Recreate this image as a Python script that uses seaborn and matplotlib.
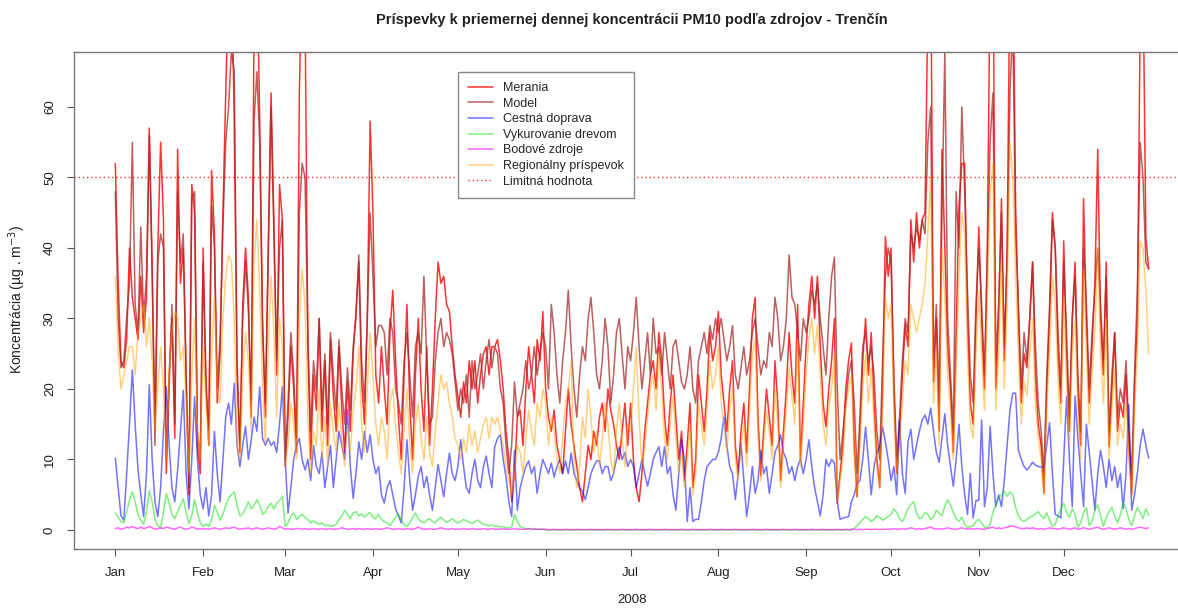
import matplotlib
matplotlib.use("Agg")
import matplotlib.pyplot as plt
import seaborn as sns
import numpy as np
import pandas as pd

# ---- data (daily values 2008, one month per row) ----
month_labels = ["Jan", "Feb", "Mar", "Apr", "May", "Jun",
                "Jul", "Aug", "Sep", "Oct", "Nov", "Dec"]
year_label = "2008"
limit_value = 50

merania = [
    52, 35, 24, 23, 27, 40, 33, 30, 27, 36, 28, 33, 57, 38, 14, 40, 55, 44, 8, 22, 30, 13, 54, 35, 40, 22, 5, 49, 45, 12, 8,
    40, 22, 12, 51, 42, 18, 25, 45, 62, 78, 82, 58, 22, 11, 32, 40, 33, 16, 72, 82, 58, 30, 16, 40, 62, 44, 22, 49, 44,
    9, 16, 26, 20, 11, 62, 82, 75, 26, 10, 22, 17, 30, 14, 24, 12, 27, 19, 14, 26, 17, 11, 21, 14, 25, 31, 38, 21, 15, 30, 58,
    45, 22, 18, 26, 20, 15, 28, 34, 24, 16, 10, 22, 32, 18, 10, 22, 30, 20, 14, 26, 12, 20, 30, 38, 35, 36, 32, 31, 26, 22,
    19, 16, 21, 18, 24, 20, 24, 18, 22, 25, 26, 22, 26, 26, 27, 24, 20, 14, 10, 4, 8, 16, 17, 12, 20, 26, 22, 18, 27, 24, 31,
    20, 16, 14, 17, 12, 10, 8, 14, 20, 15, 12, 9, 6, 4, 8, 12, 10, 14, 12, 16, 18, 14, 20, 17, 15, 12, 10, 14, 18, 12,
    18, 10, 6, 4, 8, 14, 18, 22, 24, 20, 28, 24, 16, 12, 18, 22, 16, 10, 14, 7, 12, 18, 6, 10, 22, 18, 14, 20, 28, 24, 26,
    31, 22, 18, 14, 20, 24, 12, 8, 14, 18, 11, 20, 30, 33, 16, 7.7, 14, 20, 16, 12, 24, 18, 7, 14, 20, 28, 22, 18, 32, 10, 18,
    26, 32, 36, 30, 36, 26, 18, 14.6, 20, 24, 30, 3.8, 8, 12, 20, 24, 26.5, 12, 4.7, 14, 24, 30, 22, 28, 18, 10, 6, 20, 41.6, 36,
    40, 20, 8, 14, 22, 29, 26, 44, 38, 45, 40, 44, 45, 75, 85, 21, 30, 14, 54, 40, 26, 20, 11, 28, 46, 52, 52, 30, 18, 15, 30,
    43, 30, 20, 40, 78, 85, 20, 30, 47, 24, 40, 80, 85, 46, 30, 18, 25, 23, 30, 38, 22, 15, 12, 5.2, 20, 30, 45, 40, 25, 18,
    41, 25, 14, 30, 38, 20, 12, 47, 30, 18, 26, 35, 54, 30, 22, 38, 11.8, 20, 28, 14, 18, 16, 22, 12, 5, 20, 30, 72, 80, 41.6, 37,
]

model = [
    48, 30, 23, 24, 30, 35, 55, 32, 28, 43, 30, 36, 56, 36, 12, 38, 42, 40, 10, 20, 32, 15, 48, 38, 42, 22, 6, 47, 48, 14, 10,
    38, 20, 14, 46, 40, 20, 27, 43, 55, 60, 68, 65, 24, 12, 30, 38, 31, 18, 58, 65, 55, 28, 18, 38, 60, 42, 24, 40, 44,
    10, 18, 28, 22, 13, 45, 52, 50, 28, 14, 24, 20, 30, 17, 25, 15, 28, 22, 17, 27, 20, 15, 23, 17, 26, 30, 39, 24, 18, 30, 45,
    36, 26, 29, 29, 28, 22, 30, 28, 20, 18, 15, 24, 28, 22, 16, 26, 28, 25, 36, 24, 15, 16, 24, 28, 30, 26, 28, 27, 25, 21,
    17, 20, 18, 22, 16, 24, 20, 22, 25, 20, 24, 27, 23, 26, 25, 20, 18, 12, 8, 12, 21, 16, 18, 20, 24, 20, 22, 26, 22, 25, 28,
    26, 20, 32, 28, 22, 18, 24, 28, 34, 26, 20, 16, 22, 26, 24, 30, 33, 28, 22, 20, 24, 30, 26, 18, 22, 28, 30, 25, 20, 26,
    24, 28, 33, 26, 20, 24, 28, 22, 30, 25, 26, 22, 28, 24, 20, 26, 27, 24, 21, 20, 22, 26, 20, 18, 24, 26, 28, 25, 29, 27, 30,
    28, 30, 27, 24, 26, 29, 22, 20, 23, 26, 22, 24, 28, 30, 26, 22, 24, 23, 28, 26, 33, 30, 24, 26, 30, 39, 33, 32, 28, 24, 30,
    28, 30, 34, 32, 35, 30, 26, 22, 30, 36, 38.7, 20, 10, 14, 18, 22, 24, 18, 8, 16, 26, 28, 24, 26, 22, 14, 10, 24, 36, 40,
    38, 22, 10, 16, 24, 30, 28, 42, 40, 43, 41, 44, 42, 55, 60, 24, 32, 18, 45, 68, 30, 22, 14, 48, 40, 60, 48, 34, 22, 18, 32,
    40, 32, 22, 38, 55, 62, 24, 32, 45, 26, 38, 62, 72, 42, 32, 20, 28, 24, 30, 38, 26, 18, 14, 8, 22, 32, 44, 40, 28, 20,
    38, 28, 16, 30, 36, 22, 14, 40, 32, 20, 28, 34, 40, 32, 24, 36, 14, 22, 28, 16, 20, 18, 24, 14, 8, 22, 34, 55, 50, 38, 37,
]

cestna_doprava = [
    10.2, 6, 2, 1.4, 8, 15, 22.7, 15, 8.6, 5, 1.9, 8, 20.6, 10, 4, 1.9, 6, 14, 20.3, 12, 6, 4, 8.5, 14, 19.8, 8, 3, 10, 18.9, 10, 5,
    3, 6, 2, 5, 14, 8, 4, 10, 16, 18, 15, 20.8, 12, 9, 12, 14.7, 10, 12.8, 16, 14, 20.3, 13, 12, 13, 12, 12.5, 11, 15, 20.3,
    10, 2.4, 6, 10, 12, 13, 10, 8.5, 10, 7, 12, 9, 8, 11, 6, 9, 12, 6, 10, 14, 12, 10, 17, 9, 4.5, 8, 12.5, 10, 14, 11, 13.5,
    10, 8, 9, 5, 3.8, 6, 7, 5, 3, 2, 1, 6, 12.8, 7, 2.8, 5, 7.6, 9, 6, 7.6, 5, 2.8, 6, 9.3, 7, 4.7, 8, 10.9, 8, 7,
    9, 12.8, 9, 6, 5.2, 8, 10, 7, 6, 9, 10.5, 8, 6, 11.8, 13, 13.5, 10, 7.5, 4, 1.9, 11.3, 2.8, 6, 7.6, 9, 9.8, 8, 9, 5.2, 8, 10,
    9, 8, 9.5, 7.5, 9, 10, 8, 9.8, 8, 10.9, 8, 7, 6, 5.5, 4.3, 6, 8, 9, 9.8, 9.8, 8, 9, 9, 7, 8, 10, 11.8, 10, 11, 9,
    10, 9, 6, 8, 10, 8, 6.2, 8, 10, 11, 11.8, 9, 11.8, 8, 9, 5, 2.8, 8, 12.8, 10, 1.2, 6, 1.2, 1.5, 1.5, 4, 7, 9, 9.5, 10, 10,
    11, 13, 16, 12, 9, 8, 4.3, 8, 12.3, 7, 1.9, 5, 9, 5.2, 7, 11.3, 8, 9, 5.2, 8, 11, 12, 13.5, 11, 10, 8, 9, 7, 9, 10, 8,
    10, 12.8, 9, 6, 4, 2, 5, 10, 9, 10, 9.5, 4, 1.5, 1.7, 1.8, 1.9, 4, 5, 6.6, 7, 10, 14.6, 10, 5, 9, 11, 12, 14.6, 12.5, 10,
    7, 9, 5, 15.6, 8, 5.2, 12.5, 14.3, 10, 12, 14, 15.6, 16.3, 15, 17.3, 14, 11, 9.6, 13, 16.5, 12, 9, 6.2, 10, 15, 9, 5, 2.2, 8, 1.7, 4.2,
    4.2, 15.6, 3.3, 6, 14.7, 8, 3.3, 5, 3.3, 7, 12, 17, 19.4, 19.4, 11.3, 10, 9, 8.5, 9, 9.6, 9.2, 9, 8.9, 8.9, 12, 15.2, 8, 2.2, 2, 1.7,
    10, 18.9, 10, 3.3, 19, 13, 8, 3.3, 15, 11, 7, 2.8, 8, 11.3, 9, 6, 10, 7, 9, 6, 8, 3, 8, 17.8, 2.8, 5, 8, 12, 14.3, 12, 10.2,
]

vykurovanie_drevom = [
    2.4, 1.8, 1.2, 1.0, 2.5, 4.2, 5.4, 4.0, 2.2, 1.4, 0.8, 2.5, 5.6, 4.0, 1.5, 0.6, 0.3, 2.5, 5.2, 3.8, 2.2, 1.6, 2.6, 3.5, 4.4, 2.5, 0.9, 2.0, 4.3, 2.5, 1.0,
    0.5, 0.8, 0.5, 1.5, 3.5, 2.5, 1.4, 2.2, 3.5, 4.5, 5.0, 5.4, 3.5, 2.0, 2.3, 3.0, 4.0, 3.0, 3.5, 4.3, 3.5, 2.2, 2.6, 3.3, 3.8, 3.0, 3.8, 4.2, 4.8,
    0.5, 1.0, 2.0, 2.4, 1.5, 1.9, 2.2, 1.8, 1.5, 1.0, 1.3, 1.0, 0.8, 1.0, 0.6, 0.7, 0.5, 0.6, 0.8, 1.5, 2.0, 2.8, 2.2, 1.6, 2.4, 2.6, 2.0, 2.3, 1.8, 2.2, 2.5,
    1.8, 1.6, 2.2, 1.5, 1.2, 1.0, 0.6, 1.2, 1.8, 2.3, 1.4, 0.7, 0.5, 1.0, 1.8, 2.4, 1.6, 1.2, 1.0, 1.4, 1.6, 1.2, 1.0, 1.5, 1.8, 1.4, 1.1, 1.3, 1.6, 1.2,
    1.0, 1.2, 1.5, 1.3, 1.1, 0.9, 1.2, 1.4, 1.1, 0.8, 0.7, 0.6, 0.7, 0.5, 0.6, 0.4, 0.5, 0.3, 0.3, 0.4, 2.2, 1.2, 0.5, 0.3, 0.2, 0.2, 0.1, 0.2, 0.1, 0.1, 0.1,
    0, 0, 0, 0, 0, 0, 0, 0, 0, 0, 0, 0, 0, 0, 0, 0, 0, 0, 0, 0, 0, 0, 0, 0, 0, 0, 0, 0, 0, 0,
    0, 0, 0, 0, 0, 0, 0, 0, 0, 0, 0, 0, 0, 0, 0, 0, 0, 0, 0, 0, 0, 0, 0, 0, 0, 0, 0, 0, 0, 0, 0,
    0, 0, 0, 0, 0, 0, 0, 0, 0, 0, 0, 0, 0, 0, 0, 0, 0, 0, 0, 0, 0, 0, 0, 0, 0, 0, 0, 0, 0, 0, 0,
    0, 0, 0, 0, 0, 0, 0, 0, 0, 0, 0, 0, 0, 0, 0, 0, 0, 0.2, 0.6, 1.0, 1.5, 1.9, 1.6, 1.2, 1.5, 2.0, 1.8, 1.4, 1.6, 1.9,
    2.2, 3.0, 2.5, 1.6, 1.2, 2.0, 3.0, 3.6, 4.0, 2.4, 1.6, 1.8, 2.5, 2.2, 1.5, 1.8, 2.8, 2.4, 2.0, 3.4, 4.3, 3.5, 2.5, 1.6, 1.2, 1.8, 0.8, 0.3, 0.5, 0.6, 1.2,
    1.5, 1.0, 0.4, 0.3, 0.8, 2.5, 3.5, 4.5, 5.0, 5.5, 4.8, 5.4, 5.0, 3.2, 2.0, 1.4, 1.2, 1.5, 1.8, 2.0, 2.3, 2.6, 2.0, 1.6, 2.4, 1.4, 0.5, 0.8, 2.0, 3.0,
    3.8, 2.5, 1.8, 3.0, 2.2, 0.4, 1.0, 2.5, 3.2, 0.6, 1.2, 2.8, 3.6, 2.0, 0.5, 1.8, 2.6, 3.2, 2.0, 1.0, 2.2, 3.8, 3.0, 1.5, 0.6, 2.0, 3.2, 2.5, 1.6, 3.0, 2.1,
]

bodove_zdroje = [
    0.2, 0.3, 0.1, 0.2, 0.4, 0.3, 0.5, 0.3, 0.2, 0.4, 0.2, 0.3, 0.5, 0.3, 0.1, 0.2, 0.3, 0.2, 0.4, 0.3, 0.2, 0.1, 0.3, 0.4, 0.2, 0.1, 0.2, 0.4, 0.3, 0.1, 0.2,
    0.1, 0.2, 0.1, 0.2, 0.3, 0.2, 0.1, 0.2, 0.3, 0.2, 0.3, 0.4, 0.2, 0.1, 0.2, 0.2, 0.3, 0.1, 0.2, 0.3, 0.2, 0.1, 0.2, 0.3, 0.2, 0.1, 0.2, 0.5, 0.3,
    0.1, 0.2, 0.1, 0.1, 0.2, 0.2, 0.1, 0.2, 0.1, 0.1, 0.2, 0.1, 0.1, 0.2, 0.1, 0.1, 0.2, 0.1, 0.1, 0.2, 0.3, 0.2, 0.1, 0.1, 0.2, 0.1, 0.2, 0.1, 0.1, 0.2, 0.1,
    0.1, 0.2, 0.1, 0.1, 0.2, 0.3, 0.2, 0.1, 0.1, 0.2, 0.1, 0.1, 0.2, 0.1, 0.1, 0.2, 0.4, 0.2, 0.1, 0.1, 0.2, 0.1, 0.1, 0.2, 0.3, 0.2, 0.1, 0.1, 0.2, 0.1,
    0.1, 0.1, 0.2, 0.1, 0.1, 0.2, 0.1, 0.1, 0.1, 0.2, 0.1, 0.1, 0.2, 0.1, 0.1, 0.1, 0.2, 0.1, 0.1, 0.1, 0.2, 0.1, 0.1, 0.1, 0.1, 0.2, 0.1, 0.1, 0.1, 0.1, 0.1,
    0.1, 0.05, 0.05, 0.1, 0.05, 0.05, 0.05, 0.1, 0.05, 0.05, 0.05, 0.1, 0.05, 0.05, 0.05, 0.05, 0.1, 0.05, 0.05, 0.05, 0.05, 0.05, 0.1, 0.05, 0.05, 0.05, 0.05, 0.1, 0.05, 0.05,
    0.05, 0.05, 0.1, 0.05, 0.05, 0.05, 0.05, 0.1, 0.05, 0.05, 0.05, 0.05, 0.1, 0.05, 0.05, 0.05, 0.05, 0.05, 0.1, 0.05, 0.05, 0.05, 0.1, 0.05, 0.05, 0.05, 0.05, 0.05, 0.1, 0.05, 0.05,
    0.05, 0.1, 0.05, 0.05, 0.05, 0.05, 0.1, 0.05, 0.05, 0.05, 0.05, 0.05, 0.1, 0.05, 0.05, 0.05, 0.05, 0.1, 0.05, 0.05, 0.05, 0.05, 0.05, 0.1, 0.05, 0.05, 0.05, 0.1, 0.05, 0.05, 0.05,
    0.05, 0.05, 0.1, 0.05, 0.05, 0.05, 0.1, 0.05, 0.05, 0.05, 0.05, 0.1, 0.05, 0.05, 0.1, 0.05, 0.1, 0.1, 0.05, 0.1, 0.05, 0.1, 0.1, 0.05, 0.1, 0.1, 0.05, 0.1, 0.1, 0.1,
    0.1, 0.2, 0.1, 0.1, 0.2, 0.1, 0.2, 0.3, 0.2, 0.1, 0.2, 0.1, 0.2, 0.3, 0.4, 0.2, 0.1, 0.2, 0.1, 0.2, 0.3, 0.2, 0.1, 0.1, 0.2, 0.3, 0.2, 0.1, 0.2, 0.1, 0.2,
    0.2, 0.1, 0.1, 0.2, 0.3, 0.4, 0.2, 0.3, 0.2, 0.3, 0.4, 0.5, 0.6, 0.4, 0.3, 0.2, 0.2, 0.3, 0.2, 0.3, 0.2, 0.1, 0.2, 0.1, 0.2, 0.3, 0.2, 0.2, 0.1, 0.2,
    0.3, 0.2, 0.1, 0.2, 0.3, 0.1, 0.2, 0.3, 0.2, 0.1, 0.2, 0.3, 0.4, 0.2, 0.1, 0.2, 0.3, 0.2, 0.1, 0.2, 0.3, 0.2, 0.1, 0.2, 0.1, 0.2, 0.3, 0.4, 0.3, 0.2, 0.3,
]

regionalny_prispevok = [
    36, 25, 20, 22, 24, 26, 26, 22, 28, 30, 32, 26, 30, 24, 14, 20, 26, 20, 10, 22, 28, 31, 30, 24, 26, 18, 8, 22, 30, 14, 10,
    26, 18, 12, 24, 33, 20, 18, 30, 36, 39, 38, 30, 12, 10, 22, 28, 24, 14, 38, 44, 34, 20, 12, 26, 36, 28, 16, 30, 26,
    9, 12, 18, 15, 10, 30, 37, 32, 16, 8, 14, 12, 20, 10, 16, 9, 18, 14, 11, 18, 13, 9, 15, 11, 17, 20, 26, 15, 11, 20, 28,
    22, 15, 12, 16, 14, 10, 18, 20, 15, 11, 8, 14, 20, 12, 8, 15, 18, 13, 10, 16, 11, 9, 14, 18, 22, 20, 21, 18, 16, 13,
    12, 10, 13, 11, 15, 12, 14, 11, 13, 15, 16, 13, 16, 15, 16, 14, 12, 9, 7, 5, 8, 12, 11, 8, 13, 17, 14, 12, 18, 16, 20,
    18, 12, 16, 14, 10, 8, 13, 18, 20, 24, 10, 6, 9, 16, 13, 20, 16, 11, 14, 9, 13, 18, 15, 10, 8, 14, 18, 13, 9, 15,
    14, 20, 26, 16, 9, 12, 16, 20, 22, 17, 25, 20, 13, 10, 15, 19, 13, 8, 11, 6, 10, 15, 5, 8, 18, 15, 12, 17, 24, 20, 22,
    26, 18, 15, 11, 17, 20, 10, 7, 12, 15, 9, 17, 25, 27, 13, 7, 12, 17, 14, 10, 20, 15, 6, 12, 17, 23, 19, 15, 27, 9, 15,
    22, 27, 30, 25, 29, 22, 15, 12, 17, 20, 25, 4, 7, 10, 17, 20, 22, 10, 5, 12, 20, 25, 18, 23, 15, 9, 6, 17, 33, 30,
    32, 17, 8, 12, 18, 24, 22, 32, 30, 28, 30, 32, 35, 42, 50, 18, 25, 12, 40, 33, 22, 17, 10, 23, 36, 45, 42, 25, 15, 13, 25,
    34, 25, 17, 32, 48, 52, 17, 25, 38, 20, 32, 55, 50, 36, 25, 15, 21, 19, 25, 30, 18, 13, 10, 5, 17, 25, 36, 32, 21, 15,
    33, 21, 12, 25, 30, 17, 10, 37, 25, 15, 22, 28, 40, 25, 18, 30, 10, 17, 23, 12, 15, 13, 18, 10, 5, 17, 25, 41, 40, 34, 25,
]

series = [
    ("Merania", merania, "#ff0000", 0.8),
    ("Model", model, "#a52a2a", 0.75),
    ("Cestná doprava", cestna_doprava, "#0000ff", 0.55),
    ("Vykurovanie drevom", vykurovanie_drevom, "#00e000", 0.5),
    ("Bodové zdroje", bodove_zdroje, "#ff00ff", 0.6),
    ("Regionálny príspevok", regionalny_prispevok, "#ffa500", 0.5),
]

dates = pd.date_range("2008-01-01", "2008-12-31", freq="D")
for name, vals, _, _ in series:
    if len(vals) != len(dates):
        raise ValueError(f"{name}: {len(vals)} values, expected {len(dates)}")

sns.set_style("white")
plt.rcParams["font.family"] = ["Liberation Sans", "DejaVu Sans"]

fig = plt.figure(figsize=(11.78, 6.10), dpi=100)
ax = fig.add_axes([74 / 1178, 61 / 610, 1116 / 1178, 497 / 610])

for name, vals, color, alpha in series:
    sns.lineplot(x=dates, y=vals, color=color, alpha=alpha, linewidth=1.1,
                 estimator=None, label=name, ax=ax)
ax.axhline(limit_value, color="#ff0000", alpha=0.8, linewidth=1.0,
           linestyle=(0, (1, 2)), label="Limitná hodnota")

start = dates[0]
ax.set_xlim(start - pd.Timedelta(days=14.6), start + pd.Timedelta(days=379.6))
ax.set_ylim(-2.7, 67.8)

month_starts = pd.date_range("2008-01-01", periods=12, freq="MS")
ax.set_xticks(month_starts)
ax.set_xticklabels(month_labels)
ax.set_yticks([0, 10, 20, 30, 40, 50, 60])
for lab in ax.get_yticklabels():
    lab.set_rotation(90)
    lab.set_va("center")
ax.tick_params(axis="both", direction="out", length=5, width=0.8,
               color="#555555", labelsize=9.5, labelcolor="#222222", pad=8)
ax.tick_params(axis="x", bottom=True)
ax.tick_params(axis="y", left=True)
for sp in ax.spines.values():
    sp.set_color("#777777")
    sp.set_linewidth(1.0)
ax.set_xlabel("")
ax.set_ylabel("")

fig.text(632 / 1178, 1 - 20 / 610,
         "Príspevky k priemernej dennej koncentrácii PM10 podľa zdrojov - Trenčín",
         ha="center", va="center", fontsize=10.5, fontweight="bold", color="#222222")
fig.text(632 / 1178, 1 - 600 / 610, year_label, ha="center", va="center",
         fontsize=9.5, color="#222222")
fig.text(17 / 1178, 1 - 300 / 610, "Koncentrácia (µg . m$^{-3}$)", rotation=90,
         ha="center", va="center", fontsize=10, color="#222222")

leg = ax.legend(loc="upper left", bbox_to_anchor=(458 / 1178, 1 - 72 / 610),
                bbox_transform=fig.transFigure, borderaxespad=0,
                fontsize=9, frameon=True, fancybox=False, framealpha=1,
                edgecolor="#888888", handlelength=2.0, handletextpad=0.8,
                labelspacing=0.29, borderpad=0.8)
leg.get_frame().set_linewidth(1.0)

fig.savefig("out.png", dpi=100)
